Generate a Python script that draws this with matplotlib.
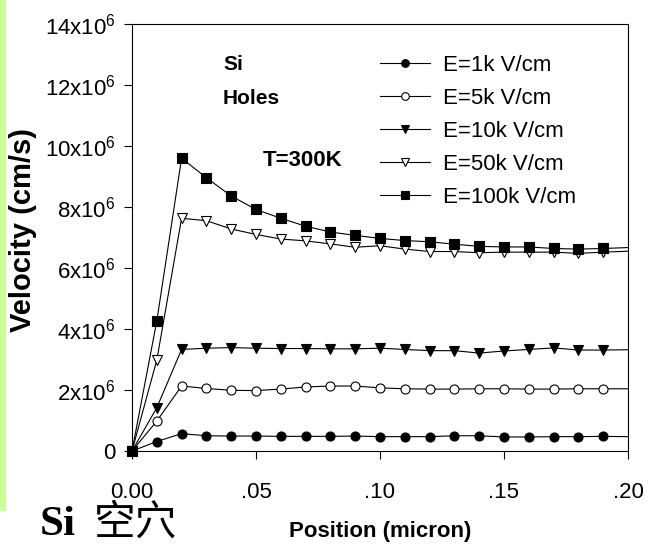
import numpy as np
import matplotlib
matplotlib.use("Agg")
import matplotlib.pyplot as plt
from matplotlib.patches import Rectangle

plt.rcParams['font.family'] = ['Liberation Sans', 'DejaVu Sans']

# position (micron), last point only carries the line to the axis edge
pos = [0.00, 0.01, 0.02, 0.03, 0.04, 0.05, 0.06, 0.07, 0.08, 0.09, 0.10,
       0.11, 0.12, 0.13, 0.14, 0.15, 0.16, 0.17, 0.18, 0.19, 0.20]

# velocity in units of 1e6 cm/s
v_1k = [0, 0.31, 0.57, 0.50, 0.49, 0.49, 0.48, 0.48, 0.48, 0.49, 0.47,
        0.47, 0.47, 0.50, 0.50, 0.46, 0.46, 0.47, 0.47, 0.48, 0.47]
v_5k = [0, 0.98, 2.13, 2.05, 1.99, 1.98, 2.03, 2.10, 2.13, 2.13, 2.07,
        2.04, 2.03, 2.03, 2.04, 2.04, 2.03, 2.03, 2.04, 2.04, 2.04]
v_10k = [0, 1.42, 3.33, 3.37, 3.39, 3.37, 3.36, 3.36, 3.35, 3.35, 3.37,
         3.33, 3.29, 3.29, 3.21, 3.28, 3.33, 3.38, 3.31, 3.31, 3.32]
v_50k = [0, 2.98, 7.63, 7.55, 7.28, 7.10, 6.95, 6.89, 6.79, 6.68, 6.73,
         6.62, 6.54, 6.54, 6.50, 6.52, 6.52, 6.52, 6.48, 6.52, 6.55]
v_100k = [0, 4.26, 9.60, 8.96, 8.36, 7.92, 7.63, 7.37, 7.18, 7.07, 6.97,
          6.90, 6.86, 6.78, 6.71, 6.69, 6.69, 6.64, 6.62, 6.64, 6.67]

labels = ['E=1k V/cm', 'E=5k V/cm', 'E=10k V/cm', 'E=50k V/cm', 'E=100k V/cm']
series = [v_1k, v_5k, v_10k, v_50k, v_100k]
markers = ['o', 'o', 'v', 'v', 's']
fills = ['black', 'white', 'black', 'white', 'black']

xticks = [0.00, 0.05, 0.10, 0.15, 0.20]
xticklabels = ['0.00', '.05', '.10', '.15', '.20']
yticks = [0, 2, 4, 6, 8, 10, 12, 14]

W, H = 649, 545
fig = plt.figure(figsize=(W / 100, H / 100), dpi=100)

# green strip at the left edge
fig.patches.append(Rectangle((0, 1 - 510 / H), 5 / W, 510 / H,
                             transform=fig.transFigure, color='#ccff99', zorder=0))

ax = fig.add_axes([132 / W, 1 - 451 / H, (628 - 132) / W, (451 - 24) / H])

for vals, lab, m, fc in zip(series, labels, markers, fills):
    ax.plot(pos, vals, color='black', lw=0.8, marker=m, markersize=6.5,
            markerfacecolor=fc, markeredgecolor='black', markeredgewidth=0.8,
            markevery=slice(0, 20), label=lab, clip_on=False)

ax.set_xlim(0, 0.20)
ax.set_ylim(0, 14)
ax.set_xticks(xticks)
ax.set_xticklabels(xticklabels)
ax.set_yticks(yticks)
ax.set_yticklabels(['0'] + [r'$\mathregular{%dx10^6}$' % t for t in yticks[1:]])
ax.tick_params(direction='out', length=6, width=0.8, labelsize=16)
ax.tick_params(axis='x', pad=16)
ax.tick_params(axis='y', pad=6)
for sp in ax.spines.values():
    sp.set_linewidth(0.8)

ax.set_xlabel('Position (micron)', fontsize=16, fontweight='bold')
ax.xaxis.set_label_coords(0.5, -(537 - 451) / (451 - 24))
ax.xaxis.label.set_va('baseline')
ax.set_ylabel('Velocity (cm/s)', fontsize=21, fontweight='bold')
ax.yaxis.set_label_coords(-(132 - 37) / (628 - 132), (451 - 230) / (451 - 24))

fig.text(223 / W, 1 - 65 / H, 'Si', fontsize=15, fontweight='bold', va='center')
fig.text(223 / W, 1 - 98 / H, 'Holes', fontsize=15, fontweight='bold', va='center')
fig.text(263 / W, 1 - 161 / H, 'T=300K', fontsize=16, fontweight='bold', va='center')

leg = ax.legend(loc='upper left', bbox_to_anchor=(380 / W, 1 - 55 / H),
                bbox_transform=fig.transFigure, frameon=False, fontsize=16,
                handlelength=2.25, handletextpad=0.59, labelspacing=0.54,
                borderpad=0, borderaxespad=0, markerscale=0.85)

fig.text(40 / W, 1 - 535 / H, 'Si', fontsize=31, fontweight='bold',
         family='Liberation Serif', va='baseline')
fig.text(94 / W, 1 - 535 / H, '空穴', fontsize=30,
         family='Noto Sans CJK SC', va='baseline')

fig.savefig('out.png', dpi=100)
